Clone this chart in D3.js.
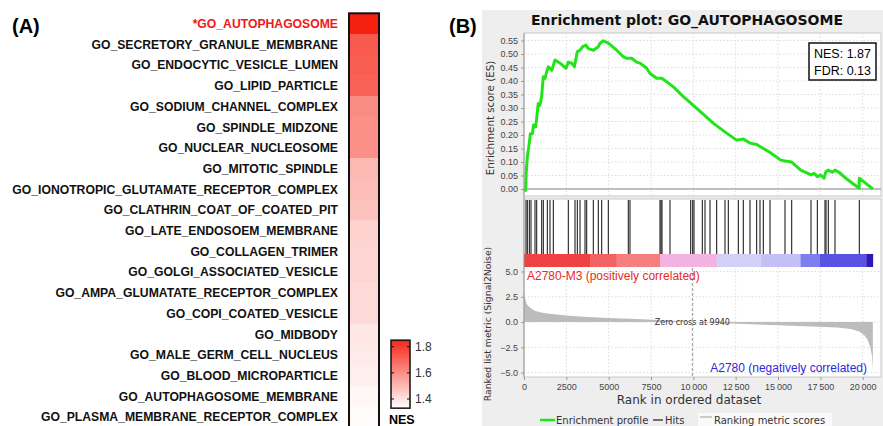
<!DOCTYPE html>
<html>
<head>
<meta charset="utf-8">
<script src="https://cdn.jsdelivr.net/npm/d3@7"></script>
<style>
  body { margin: 0; background: #fff; }
  svg { display: block; }
</style>
</head>
<body>
<svg id="chart" width="883" height="426"></svg>
<script>
// panel A: GO terms and their NES
var goTerms = [
  "*GO_AUTOPHAGOSOME",
  "GO_SECRETORY_GRANULE_MEMBRANE",
  "GO_ENDOCYTIC_VESICLE_LUMEN",
  "GO_LIPID_PARTICLE",
  "GO_SODIUM_CHANNEL_COMPLEX",
  "GO_SPINDLE_MIDZONE",
  "GO_NUCLEAR_NUCLEOSOME",
  "GO_MITOTIC_SPINDLE",
  "GO_IONOTROPIC_GLUTAMATE_RECEPTOR_COMPLEX",
  "GO_CLATHRIN_COAT_OF_COATED_PIT",
  "GO_LATE_ENDOSOEM_MEMBRANE",
  "GO_COLLAGEN_TRIMER",
  "GO_GOLGI_ASSOCIATED_VESICLE",
  "GO_AMPA_GLUMATATE_RECEPTOR_COMPLEX",
  "GO_COPI_COATED_VESICLE",
  "GO_MIDBODY",
  "GO_MALE_GERM_CELL_NUCLEUS",
  "GO_BLOOD_MICROPARTICLE",
  "GO_AUTOPHAGOSOME_MEMBRANE",
  "GO_PLASMA_MEMBRANE_RECEPTOR_COMPLEX"
];
var nesValues = [1.87, 1.73, 1.72, 1.71, 1.61, 1.60, 1.60, 1.50, 1.49, 1.48,
  1.44, 1.43, 1.43, 1.42, 1.42, 1.39, 1.38, 1.37, 1.35, 1.34];
var nesLegendTicks = [1.4, 1.6, 1.8];

// panel B: running enrichment score
var esRanks = [0, 100, 130, 200, 300, 380, 500, 560, 680, 750, 840, 940, 1040, 1140, 1240,
  1340, 1440, 1640, 1830, 2130, 2480, 2620, 2815, 2975, 3150, 3310, 3465, 3660, 3800,
  4100, 4390, 4490, 4685, 4980, 5470, 5860, 6060, 6355, 6650, 6850, 7245, 7440, 7835,
  8130, 8430, 8820, 9410, 10200, 11190, 11980, 12560, 12950, 13350, 13740, 14130, 14530,
  15160, 15410, 15800, 16340, 16950, 17130, 17330, 17520, 17720, 17830, 17970, 18200,
  18370, 18600, 19100, 19790, 19800, 20600];
var esScores = [0, -0.005, 0.06, 0.12, 0.165, 0.205, 0.205, 0.237, 0.23, 0.262, 0.317, 0.31,
  0.342, 0.416, 0.41, 0.434, 0.453, 0.44, 0.478, 0.466, 0.447, 0.47, 0.466, 0.453, 0.509,
  0.514, 0.527, 0.533, 0.52, 0.514, 0.527, 0.54, 0.549, 0.54, 0.514, 0.49, 0.484, 0.484,
  0.47, 0.466, 0.447, 0.428, 0.41, 0.41, 0.397, 0.378, 0.342, 0.299, 0.243, 0.206, 0.181,
  0.185, 0.17, 0.165, 0.15, 0.135, 0.107, 0.104, 0.1, 0.07, 0.052, 0.058, 0.046, 0.052,
  0.04, 0.065, 0.07, 0.062, 0.07, 0.062, 0.035, 0.003, 0.04, 0];

// gene set hits (rank positions)
var hitRanks = [118, 197, 315, 413, 650, 748, 1043, 1142, 1378, 1535, 1732, 2618, 3012,
  3150, 3307, 3602, 3700, 4094, 4389, 4586, 4980, 6160, 6259, 8030, 8090, 8149, 8621,
  9842, 9960, 10039, 10530, 10688, 10983, 11376, 11869, 12066, 12656, 12950, 13345,
  13738, 13935, 14132, 14526, 15412, 15806, 16947, 17322, 17774, 17833, 17971, 18364, 19801];

// ranked list metric (Signal2Noise)
var metricRanks = [0, 60, 150, 300, 600, 1000, 1500, 2500, 3500, 5000, 7000, 8500, 9940,
  11500, 13000, 15000, 17000, 18500, 19300, 19800, 20100, 20300, 20450, 20550, 20600];
var metricValues = [3.2, 2.4, 1.8, 1.5, 1.15, 0.95, 0.82, 0.65, 0.52, 0.4, 0.28, 0.15, 0,
  -0.1, -0.2, -0.32, -0.45, -0.55, -0.7, -0.95, -1.3, -1.8, -2.5, -3.4, -4.7];
var zeroCross = 9940;

// correlation colour bar
var barBreaks = [0, 3900, 5470, 8030, 11380, 14000, 16330, 17480, 20240, 20600];
var barColors = ["#ef4242", "#f26262", "#f57f7f", "#f2b2e2", "#d2d0f7", "#c2c0f5",
  "#7f7ef0", "#5a52e3", "#2e1ab0"];

var esTicks = [0, 0.05, 0.1, 0.15, 0.2, 0.25, 0.3, 0.35, 0.4, 0.45, 0.5, 0.55];
var metricTicks = [-5, -2.5, 0, 2.5, 5];
var rankTicks = [0, 2500, 5000, 7500, 10000, 12500, 15000, 17500, 20000];
var rankTickLabels = ["0", "2500", "5000", "7500", "10\u2009000", "12\u2009500", "15\u2009000", "17\u2009500", "20\u2009000"];

var svg = d3.select("#chart");
var sans = "'Liberation Sans', Arial, sans-serif";
var dejavu = "'DejaVu Sans', sans-serif";

// ---------------- panel A ----------------
svg.append("text").attr("x", 12).attr("y", 33)
  .style("font", "bold 20px " + sans).text("(A)");

var rowY = d3.scaleBand().domain(goTerms).range([13.3, 13.3 + 20.7 * goTerms.length]);
var nesColor = d3.scaleLinear().domain([1.33, 1.87]).range(["#ffffff", "#f5200f"]);

svg.append("g").selectAll("rect").data(goTerms).enter().append("rect")
  .attr("x", 349).attr("width", 30)
  .attr("y", function (d) { return rowY(d); })
  .attr("height", rowY.bandwidth() + 0.5)
  .attr("fill", function (d, i) { return nesColor(nesValues[i]); });

svg.append("rect").attr("x", 349).attr("y", 13.3).attr("width", 30)
  .attr("height", 20.7 * goTerms.length + 2)
  .attr("fill", "none").attr("stroke", "#111").attr("stroke-width", 2);

svg.append("g").selectAll("text").data(goTerms).enter().append("text")
  .attr("x", 338)
  .attr("y", function (d) { return rowY(d) + rowY.bandwidth() / 2; })
  .attr("dy", "0.36em")
  .attr("text-anchor", "end")
  .style("font", "bold 12.2px " + sans)
  .attr("fill", function (d, i) { return i === 0 ? "#f01818" : "#111"; })
  .text(function (d) { return d; });

// NES legend
var legendY = d3.scaleLinear().domain([1.4, 1.8]).range([399, 346.7]);
var legTop = legendY(1.85), legBot = legendY(1.33);
var grad = svg.append("defs").append("linearGradient").attr("id", "nesGrad")
  .attr("x1", 0).attr("y1", 1).attr("x2", 0).attr("y2", 0);
grad.append("stop").attr("offset", 0).attr("stop-color", nesColor(1.33));
grad.append("stop").attr("offset", 1).attr("stop-color", nesColor(1.85));
svg.append("rect").attr("x", 391).attr("y", legTop).attr("width", 19)
  .attr("height", legBot - legTop).attr("fill", "url(#nesGrad)")
  .attr("stroke", "#111").attr("stroke-width", 1.5);
var legTick = svg.append("g").selectAll("g").data(nesLegendTicks).enter().append("g");
legTick.append("line").attr("x1", 391).attr("x2", 394)
  .attr("y1", function (d) { return legendY(d); }).attr("y2", function (d) { return legendY(d); })
  .attr("stroke", "#111");
legTick.append("line").attr("x1", 407).attr("x2", 410)
  .attr("y1", function (d) { return legendY(d); }).attr("y2", function (d) { return legendY(d); })
  .attr("stroke", "#111");
legTick.append("text").attr("x", 415).attr("y", function (d) { return legendY(d); })
  .attr("dy", "0.36em").style("font", "12px " + sans).attr("fill", "#333")
  .text(function (d) { return d.toFixed(1); });
svg.append("text").attr("x", 389).attr("y", 423.5)
  .style("font", "bold 12.5px " + sans).text("NES");

// ---------------- panel B ----------------
svg.append("text").attr("x", 449).attr("y", 33)
  .style("font", "bold 20px " + sans).text("(B)");

svg.append("rect").attr("x", 482).attr("y", 10).attr("width", 401).attr("height", 416)
  .attr("fill", "#eeeeee");

svg.append("text").attr("x", 687).attr("y", 25).attr("text-anchor", "middle")
  .style("font", "bold 14px " + dejavu).attr("fill", "#111")
  .text("Enrichment plot: GO_AUTOPHAGOSOME");

var plotL = 524, plotR = 881;
var x = d3.scaleLinear().domain([0, 20000]).range([524, 862.7]);
var esTop = 33, esBot = 196, hitTop = 199, barTop = 254, barBot = 268, rkTop = 268, rkBot = 377;
var esY = d3.scaleLinear().domain([0, 0.55]).range([189, 40.5]);
var mY = d3.scaleLinear().domain([-5, 5]).range([372.5, 271.5]);

// panel backgrounds
svg.append("rect").attr("x", plotL).attr("y", esTop).attr("width", plotR - plotL)
  .attr("height", esBot - esTop).attr("fill", "#fff").attr("stroke", "#c8c8c8");
svg.append("rect").attr("x", plotL).attr("y", hitTop).attr("width", plotR - plotL)
  .attr("height", rkBot - hitTop).attr("fill", "#fff").attr("stroke", "#c8c8c8");

// grids
var gridStyle = function (sel) {
  sel.attr("stroke", "#dcdcdc").attr("stroke-dasharray", "1.5,2").attr("stroke-width", 1);
};
svg.append("g").selectAll("line").data(rankTicks.slice(1)).enter().append("line")
  .attr("x1", function (d) { return x(d); }).attr("x2", function (d) { return x(d); })
  .attr("y1", esTop).attr("y2", esBot).call(gridStyle);
svg.append("g").selectAll("line").data(esTicks.slice(1)).enter().append("line")
  .attr("x1", plotL).attr("x2", plotR)
  .attr("y1", function (d) { return esY(d); }).attr("y2", function (d) { return esY(d); })
  .call(gridStyle);
svg.append("g").selectAll("line").data(rankTicks.slice(1)).enter().append("line")
  .attr("x1", function (d) { return x(d); }).attr("x2", function (d) { return x(d); })
  .attr("y1", rkTop).attr("y2", rkBot).call(gridStyle);
svg.append("g").selectAll("line").data(metricTicks).enter().append("line")
  .attr("x1", plotL).attr("x2", plotR)
  .attr("y1", function (d) { return mY(d); }).attr("y2", function (d) { return mY(d); })
  .call(gridStyle);

// ES zero line
svg.append("line").attr("x1", plotL).attr("x2", plotR)
  .attr("y1", esY(0)).attr("y2", esY(0)).attr("stroke", "#aaa").attr("stroke-width", 1.5);

// running ES curve
var esLine = d3.line()
  .x(function (d, i) { return x(esRanks[i]); })
  .y(function (d) { return esY(d); });
svg.append("path").datum(esScores).attr("d", esLine)
  .attr("fill", "none").attr("stroke", "#22e41a").attr("stroke-width", 3)
  .attr("stroke-linejoin", "round");

// NES / FDR box
svg.append("rect").attr("x", 809).attr("y", 43).attr("width", 67).attr("height", 37)
  .attr("fill", "#fff").attr("stroke", "#111").attr("stroke-width", 1.5);
svg.append("text").attr("x", 842.5).attr("y", 57.5).attr("text-anchor", "middle")
  .style("font", "12.5px " + sans).text("NES: 1.87");
svg.append("text").attr("x", 842.5).attr("y", 74.5).attr("text-anchor", "middle")
  .style("font", "12.5px " + sans).text("FDR: 0.13");

// hits
svg.append("g").selectAll("line").data(hitRanks).enter().append("line")
  .attr("x1", function (d) { return x(d); }).attr("x2", function (d) { return x(d); })
  .attr("y1", hitTop + 1).attr("y2", barTop)
  .attr("stroke", "#222").attr("stroke-width", 1.1);

// colour bar
svg.append("g").selectAll("rect").data(barColors).enter().append("rect")
  .attr("x", function (d, i) { return x(barBreaks[i]); })
  .attr("width", function (d, i) { return x(barBreaks[i + 1]) - x(barBreaks[i]) + 0.3; })
  .attr("y", barTop).attr("height", barBot - barTop - 1)
  .attr("fill", function (d) { return d; });

// ranked metric area
var area = d3.area()
  .x(function (d, i) { return x(metricRanks[i]); })
  .y0(mY(0))
  .y1(function (d) { return mY(d); });
svg.append("path").datum(metricValues).attr("d", area).attr("fill", "#bcbcbc");

svg.append("line").attr("x1", x(zeroCross)).attr("x2", x(zeroCross))
  .attr("y1", rkTop).attr("y2", rkBot)
  .attr("stroke", "#999").attr("stroke-dasharray", "3,2");
svg.append("text").attr("x", x(zeroCross)).attr("y", mY(0)).attr("dy", "0.35em")
  .attr("text-anchor", "middle").style("font", "8px " + dejavu).attr("fill", "#333")
  .text("Zero cross at " + zeroCross);

svg.append("text").attr("x", 527).attr("y", 279.5)
  .style("font", "12px " + sans).attr("fill", "#e82a22")
  .text("A2780-M3 (positively correlated)");
svg.append("text").attr("x", 867).attr("y", 372).attr("text-anchor", "end")
  .style("font", "12px " + sans).attr("fill", "#2a2ae0")
  .text("A2780 (negatively correlated)");

// axes
function styleAxis(g) {
  g.selectAll(".domain").attr("stroke", "#999");
  g.selectAll(".tick line").attr("stroke", "#999");
  g.selectAll(".tick text").style("font", "9px " + sans).attr("fill", "#444");
}
svg.append("g").attr("transform", "translate(" + plotL + ",0)")
  .call(d3.axisLeft(esY).tickValues(esTicks).tickSize(3).tickPadding(3)
    .tickFormat(d3.format(".2f")))
  .call(function (g) { g.select(".domain").remove(); })
  .call(styleAxis);
svg.append("g").attr("transform", "translate(" + plotL + ",0)")
  .call(d3.axisLeft(mY).tickValues(metricTicks).tickSize(3).tickPadding(3)
    .tickFormat(d3.format(".1f")))
  .call(function (g) { g.select(".domain").remove(); })
  .call(styleAxis);
svg.append("g").attr("transform", "translate(0," + rkBot + ")")
  .call(d3.axisBottom(x).tickValues(rankTicks).tickSize(3).tickPadding(4)
    .tickFormat(function (d, i) { return rankTickLabels[i]; }))
  .call(function (g) { g.select(".domain").remove(); })
  .call(styleAxis);
svg.append("line").attr("x1", plotL).attr("x2", plotL).attr("y1", esTop).attr("y2", rkBot)
  .attr("stroke", "#999");

// axis titles
svg.append("text").attr("transform", "translate(494,118) rotate(-90)")
  .attr("text-anchor", "middle").style("font", "10.3px " + dejavu).attr("fill", "#333")
  .text("Enrichment score (ES)");
svg.append("text").attr("transform", "translate(491,324) rotate(-90)")
  .attr("text-anchor", "middle").style("font", "9.3px " + dejavu).attr("fill", "#333")
  .text("Ranked list metric (Signal2Noise)");
svg.append("text").attr("x", 689).attr("y", 404).attr("text-anchor", "middle")
  .style("font", "12px " + dejavu).attr("fill", "#333")
  .text("Rank in ordered dataset");

// bottom legend
svg.append("rect").attr("x", 698).attr("y", 413).attr("width", 134).attr("height", 13)
  .attr("fill", "#fafafa");
svg.append("line").attr("x1", 540).attr("x2", 555).attr("y1", 420).attr("y2", 420)
  .attr("stroke", "#22e41a").attr("stroke-width", 2.5);
svg.append("text").attr("x", 556).attr("y", 424).style("font", "10px " + dejavu)
  .attr("fill", "#333").text("Enrichment profile");
svg.append("line").attr("x1", 653).attr("x2", 663).attr("y1", 420).attr("y2", 420)
  .attr("stroke", "#444").attr("stroke-width", 1.5);
svg.append("text").attr("x", 665).attr("y", 424).style("font", "10px " + dejavu)
  .attr("fill", "#333").text("Hits");
svg.append("line").attr("x1", 700).attr("x2", 712).attr("y1", 417).attr("y2", 417)
  .attr("stroke", "#bbb").attr("stroke-width", 1.5);
svg.append("text").attr("x", 714).attr("y", 424).style("font", "10px " + dejavu)
  .attr("fill", "#333").text("Ranking metric scores");
</script>
</body>
</html>
